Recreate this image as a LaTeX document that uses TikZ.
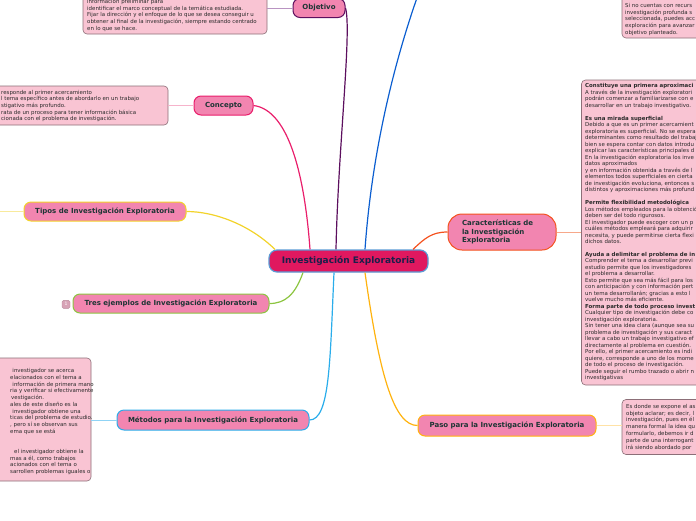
\documentclass[tikz,border=0pt]{standalone}
\usepackage{fontspec}
\setmainfont{DejaVu Sans}
\definecolor{cCenter}{HTML}{E0185F}
\definecolor{cCenterBd}{HTML}{5B9BD5}
\definecolor{cCenterTx}{HTML}{1B1F4B}
\definecolor{cTopic}{HTML}{F285B0}
\definecolor{cTopicTx}{HTML}{1E3535}
\definecolor{cNote}{HTML}{F9C4D3}
\definecolor{cNoteBd}{HTML}{8C6F78}
\definecolor{cNoteTx}{HTML}{2A2A2A}
\definecolor{cPurple}{HTML}{5C0F5E}
\definecolor{cPurpleL}{HTML}{B994C2}
\definecolor{cPink}{HTML}{E91E6B}
\definecolor{cPinkL}{HTML}{F6B3CB}
\definecolor{cYellow}{HTML}{F2D32A}
\definecolor{cYellowL}{HTML}{F8EA9C}
\definecolor{cGreen}{HTML}{8CC540}
\definecolor{cSky}{HTML}{2AADEB}
\definecolor{cSkyL}{HTML}{8FD3F5}
\definecolor{cAmber}{HTML}{FFB30F}
\definecolor{cAmberL}{HTML}{FFE2A6}
\definecolor{cOrange}{HTML}{F4511E}
\definecolor{cOrangeL}{HTML}{F7A88A}
\definecolor{cBlue}{HTML}{0B5ED0}
\definecolor{cBadge}{HTML}{D7A3B6}
\definecolor{cBadgeBd}{HTML}{B8899A}
\begin{document}
\begin{tikzpicture}[x=1pt,y=-1pt,
  topic/.style={draw, line width=1pt, rounded corners=7pt, fill=cTopic, text=cTopicTx,
    font=\bfseries\fontsize{7}{8}\selectfont, inner sep=0pt, align=center},
  panel/.style={draw=cNoteBd, line width=0.6pt, rounded corners=4pt, fill=cNote, inner sep=0pt},
  notetext/.style={anchor=north west, inner sep=0pt, align=left, text=cNoteTx},
  branch/.style={line width=1.2pt},
  twig/.style={line width=1pt}]
\useasboundingbox (0,0) rectangle (696,520);
\clip (0,0) rectangle (696,520);

% ---------- panels (text boxes) ----------
\node[panel, minimum width=184pt, minimum height=60pt] (pObj) at (175,4) {};
\node[notetext, font=\fontsize{5.45}{6.7}\selectfont] (tObj) at (87,-1.1) {información preliminar para\\
identificar el marco conceptual de la temática estudiada.\\
Fijar la dirección y el enfoque de lo que se desea conseguir u\\
obtener al final de la investigación, siempre estando centrado\\
en lo que se hace.};

\node[panel, minimum width=218pt, minimum height=39pt] (pCon) at (59,105.5) {};
\node[notetext, font=\fontsize{5.45}{6.6}\selectfont] (tCon) at (1,89.9) {responde al primer acercamiento\\
l tema específico antes de abordarlo en un trabajo\\
stigativo más profundo.\\
rata de un proceso para tener información básica\\
cionada con el problema de investigación.};

\node[panel, minimum width=141pt, minimum height=123pt] (pMet) at (20.5,419.5) {};
\node[notetext, font=\fontsize{5.45}{6.73}\selectfont] (tMet) at (10,368.4) {\hspace*{2.3pt}investigador se acerca\\
elacionados con el tema a\\
\hspace*{2.3pt}información de primera mano\\
ria y verificar si efectivamente\\
\hspace*{1pt}vestigación.\\
ales de este diseño es la\\
\hspace*{2.3pt}investigador obtiene una\\
ticas del problema de estudio.\\
, pero sí se observan sus\\
ema que se está\\[13.46pt]
\hspace*{4pt}el investigador obtiene la\\
mas a él, como trabajos\\
acionados con el tema o\\
sarrollen problemas iguales o};

\node[panel, minimum width=150pt, minimum height=305pt] (pCar) at (656.5,232.5) {};
\node[notetext, font=\fontsize{5.45}{6.49}\selectfont] (tCar) at (585,83.4) {\textbf{Constituye una primera aproximaci}\\
A través de la investigación exploratori\\
podrán comenzar a familiarizarse con e\\
desarrollar en un trabajo investigativo.\\[6.49pt]
\textbf{Es una mirada superficial}\\
Debido a que es un primer acercamient\\
exploratoria es superficial. No se espera\\
determinantes como resultado del trabaj\\
bien se espera contar con datos introdu\\
explicar las características principales d\\
En la investigación exploratoria los inve\\
datos aproximados\\
y en información obtenida a través de l\\
elementos todos superficiales en cierta\\
de investigación evoluciona, entonces s\\
distintos y aproximaciones más profund\\[6.49pt]
\textbf{Permite flexibilidad metodológica}\\
Los métodos empleados para la obtenció\\
deben ser del todo rigurosos.\\
El investigador puede escoger con un p\\
cuáles métodos empleará para adquirir\\
necesita, y puede permitirse cierta flexi\\
dichos datos.\\[6.49pt]
\textbf{Ayuda a delimitar el problema de in}\\
Comprender el tema a desarrollar previ\\
estudio permite que los investigadores\\
el problema a desarrollar.\\
Esto permite que sea más fácil para los\\
con anticipación y con información pert\\
un tema desarrollarán; gracias a esto l\\
vuelve mucho más eficiente.\\
\textbf{Forma parte de todo proceso invest}\\
Cualquier tipo de investigación debe co\\
investigación exploratoria.\\
Sin tener una idea clara (aunque sea su\\
problema de investigación y sus caract\\
llevar a cabo un trabajo investigativo ef\\
directamente al problema en cuestión.\\
Por ello, el primer acercamiento es indi\\
quiere, corresponde a uno de los mome\\
de todo el proceso de investigación.\\
Puede seguir el rumbo trazado o abrir n\\
investigativas};

\node[panel, minimum width=140pt, minimum height=70pt] (pTop) at (692,3) {};
\node[notetext, font=\fontsize{5.45}{6.7}\selectfont] (tTop) at (625,3.2) {Si no cuentas con recurs\\
investigación profunda s\\
seleccionada, puedes acc\\
exploración para avanzar\\
objetivo planteado.};

\node[panel, minimum width=140pt, minimum height=55pt] (pPas) at (692,427) {};
\node[notetext, font=\fontsize{5.45}{6.8}\selectfont] (tPas) at (626,403.9) {Es donde se expone el as\\
objeto aclarar; es decir, l\\
investigación, pues en él\\
manera formal la idea qu\\
formularlo, debemos ir d\\
parte de una interrogant\\
irá siendo abordado por};

% ---------- topics ----------
\node[topic, draw=cCenterBd, fill=cCenter, text=cCenterTx, line width=1.2pt,
  font=\bfseries\fontsize{9}{10}\selectfont, minimum width=159pt, minimum height=22pt,
  rounded corners=8pt] (ctr) at (348.5,261) {Investigación Exploratoria};
\node[topic, draw=cPurple, minimum width=52pt, minimum height=19pt] (obj) at (319,8) {Objetivo};
\node[topic, draw=cPink, minimum width=59pt, minimum height=19pt] (con) at (223.5,105.5) {Concepto};
\node[topic, draw=cYellow, minimum width=162pt, minimum height=19pt] (tip) at (105,211.5) {Tipos de Investigación Exploratoria};
\node[topic, draw=cGreen, minimum width=196pt, minimum height=19pt] (tre) at (171,303.5) {Tres ejemplos de Investigación Exploratoria};
\node[topic, draw=cSky, minimum width=192pt, minimum height=20pt] (met) at (213,420) {Métodos para la Investigación Exploratoria};
\node[topic, draw=cAmber, minimum width=178pt, minimum height=21pt] (pas) at (507,425.5) {Paso para la Investigación Exploratoria};
\node[topic, draw=cOrange, align=left, text width=80pt, inner xsep=14pt, minimum height=36pt,
  rounded corners=14pt, font=\bfseries\fontsize{7}{8.2}\selectfont] (car) at (502,232)
  {Características de\\la Investigación\\Exploratoria};
\node[draw=cBadgeBd, fill=cBadge, rounded corners=1.5pt, minimum width=8pt, minimum height=8pt,
  inner sep=0pt, text=white, font=\fontsize{4.5}{5}\selectfont] (bdg) at (66,304.3) {1};

\coordinate (upEnd) at (418,-5);
\coordinate (tipEnd) at (-5,211.5);

% ---------- main branches ----------
\draw[branch, cPurple] ([xshift=-12.5pt]ctr.north) .. controls (338,150) and (352,30) .. (obj.east);
\draw[branch, cPink] ([xshift=-38.5pt]ctr.north) .. controls (305,180) and (290,110) .. (con.east);
\draw[branch, cBlue] ([xshift=16.5pt]ctr.north) .. controls (372,150) and (395,60) .. (upEnd);
\draw[branch, cOrange] ([xshift=64.5pt]ctr.north) .. controls (425,238) and (432,232) .. (car.west);
\draw[branch, cYellow] ([xshift=-73.5pt]ctr.north) .. controls (250,225) and (215,211.5) .. (tip.east);
\draw[branch, cGreen] ([xshift=-45.5pt]ctr.south) .. controls (295,295) and (285,303.5) .. (tre.east);
\draw[branch, cSky] ([xshift=-14.5pt]ctr.south) .. controls (330,360) and (330,420) .. (met.east);
\draw[branch, cAmber] ([xshift=16.5pt]ctr.south) .. controls (380,380) and (395,425.5) .. (pas.west);

% ---------- twigs to boxes ----------
\draw[twig, cPurpleL] (obj.west) -- (obj.west -| pObj.east);
\draw[twig, cPinkL] (con.west) -- (con.west -| pCon.east);
\draw[twig, cYellowL] (tip.west) -- (tipEnd);
\draw[twig, cSkyL] (met.west) -- (met.west -| pMet.east);
\draw[twig, cOrangeL] (car.east) -- (car.east -| pCar.west);
\draw[twig, cAmberL] (pas.east) -- (pas.east -| pPas.west);
\end{tikzpicture}
\end{document}
